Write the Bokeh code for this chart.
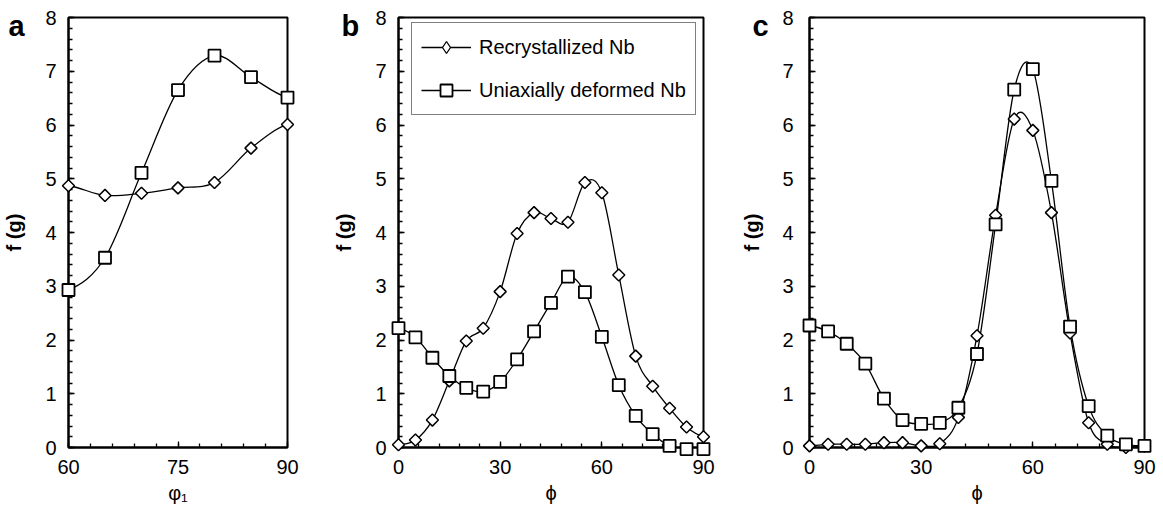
import numpy as np
from bokeh.plotting import figure
from bokeh.layouts import row
from bokeh.models import FixedTicker, Legend, LegendItem, Title, ColumnDataSource
from bokeh.embed import file_html
from bokeh.resources import INLINE

FONT = "Liberation Sans"
HEIGHT = 506

# (a) texture intensity along phi1
phi1_a = [60, 65, 70, 75, 80, 85, 90]
recryst_a = [4.87, 4.69, 4.73, 4.83, 4.93, 5.57, 6.01]
deformed_a = [2.93, 3.53, 5.11, 6.65, 7.29, 6.89, 6.51]

# (b) and (c) texture intensity along phi
phi_bc = [0, 5, 10, 15, 20, 25, 30, 35, 40, 45, 50, 55, 60, 65, 70, 75, 80, 85, 90]
recryst_b = [0.05, 0.14, 0.51, 1.24, 1.98, 2.22, 2.90, 3.98, 4.37, 4.26, 4.19, 4.93, 4.74,
             3.21, 1.70, 1.14, 0.73, 0.38, 0.20]
deformed_b = [2.22, 2.05, 1.67, 1.33, 1.11, 1.04, 1.22, 1.64, 2.16, 2.69, 3.18, 2.89, 2.06,
              1.16, 0.59, 0.25, 0.03, -0.03, -0.03]
recryst_c = [0.03, 0.06, 0.06, 0.06, 0.09, 0.09, 0.03, 0.07, 0.56, 2.08, 4.32, 6.11, 5.90,
             4.37, 2.13, 0.46, 0.06, 0.0, 0.03]
deformed_c = [2.27, 2.16, 1.93, 1.56, 0.91, 0.51, 0.44, 0.46, 0.74, 1.74, 4.15, 6.66, 7.04,
              4.96, 2.25, 0.77, 0.22, 0.06, 0.03]

series_names = ["Recrystallized Nb", "Uniaxially deformed Nb"]
y_ticks = [0, 1, 2, 3, 4, 5, 6, 7, 8]
x_ticks_a = [60, 75, 90]
x_ticks_bc = [0, 30, 60, 90]


def spline_source(x, y):
    """Cubic Bezier segments of a Catmull-Rom curve through the points."""
    x = np.asarray(x, float)
    y = np.asarray(y, float)
    xp = np.concatenate([[2 * x[0] - x[1]], x, [2 * x[-1] - x[-2]]])
    yp = np.concatenate([[y[0]], y, [y[-1]]])
    i = np.arange(len(x) - 1)
    p0x, p1x, p2x, p3x = xp[i], xp[i + 1], xp[i + 2], xp[i + 3]
    p0y, p1y, p2y, p3y = yp[i], yp[i + 1], yp[i + 2], yp[i + 3]
    return ColumnDataSource(dict(
        x0=p1x, y0=p1y, x1=p2x, y1=p2y,
        cx0=p1x + (p2x - p0x) / 6, cy0=p1y + (p2y - p0y) / 6,
        cx1=p2x - (p3x - p1x) / 6, cy1=p2y - (p3y - p1y) / 6,
    ))


def make_panel(letter, x, rec, dfm, x_range, xticks, minor_step, xlabel,
               width, left, right, top, bottom, tick_standoff, label_standoff,
               letter_offset, with_legend=False):
    p = figure(width=width, height=HEIGHT, x_range=x_range, y_range=(0, 8),
               output_backend="svg", toolbar_location=None,
               min_border_left=left, min_border_right=right,
               min_border_top=top, min_border_bottom=bottom)
    p.grid.visible = False
    p.outline_line_color = "black"
    p.outline_line_width = 2
    p.background_fill_color = "white"
    p.border_fill_color = "white"

    p.xaxis.ticker = FixedTicker(
        ticks=xticks,
        minor_ticks=list(np.arange(x_range[0], x_range[1] + 0.01, minor_step)))
    p.yaxis.ticker = FixedTicker(
        ticks=y_ticks, minor_ticks=list(np.round(np.arange(0, 8.01, 0.2), 2)))
    for ax in (p.xaxis, p.yaxis):
        ax.axis_line_color = "black"
        ax.axis_line_width = 2
        ax.major_tick_in = 6
        ax.major_tick_out = 0
        ax.minor_tick_in = 4
        ax.minor_tick_out = 0
        ax.major_tick_line_width = 1.3
        ax.minor_tick_line_width = 1.3
        ax.major_tick_line_color = "black"
        ax.minor_tick_line_color = "black"
        ax.major_label_text_font = FONT
        ax.major_label_text_font_size = "20px"
        ax.major_label_text_color = "black"
        ax.axis_label_text_font = FONT
        ax.axis_label_text_font_size = "20px"
        ax.axis_label_text_color = "black"
    p.xaxis.major_label_standoff = 12
    p.xaxis.axis_label = xlabel
    p.xaxis.axis_label_text_font_style = "normal"
    p.xaxis.axis_label_standoff = 5
    p.yaxis.major_label_standoff = tick_standoff
    p.yaxis.axis_label = "f (g)"
    p.yaxis.axis_label_text_font_style = "bold"
    p.yaxis.axis_label_standoff = label_standoff

    rec_line = p.bezier(x0="x0", y0="y0", x1="x1", y1="y1", cx0="cx0", cy0="cy0",
                        cx1="cx1", cy1="cy1", source=spline_source(x, rec),
                        line_color="black", line_width=1.3)
    dfm_line = p.bezier(x0="x0", y0="y0", x1="x1", y1="y1", cx0="cx0", cy0="cy0",
                        cx1="cx1", cy1="cy1", source=spline_source(x, dfm),
                        line_color="black", line_width=1.3)
    # markers sit on top of the frame, so they may overhang its edges
    p.scatter(x, rec, marker="square", angle=np.pi / 4, size=8.5, level="overlay",
              fill_color="white", line_color="black", line_width=1.5)
    dfm_pts = p.scatter(x, dfm, marker="square", size=12, level="overlay",
                        fill_color="white", line_color="black", line_width=1.8)

    # panel letter, set in the top-left corner beside the frame
    p.add_layout(Title(text=letter, align="left", vertical_align="bottom",
                       offset=letter_offset, standoff=-48, text_font=FONT,
                       text_font_size="29px", text_font_style="bold",
                       text_color="black"), "above")

    if with_legend:
        # the legend draws markers unrotated, so its diamond key uses the diamond marker
        rec_key = p.scatter(x, rec, marker="diamond", size=12, fill_color="white",
                            line_color="black", line_width=1.3)
        rec_key.visible = False
        legend = Legend(items=[
            LegendItem(label=series_names[0], renderers=[rec_line, rec_key]),
            LegendItem(label=series_names[1], renderers=[dfm_line, dfm_pts]),
        ], location=(13, 332))
        legend.glyph_width = 50
        legend.glyph_height = 30
        legend.label_height = 30
        legend.label_standoff = 8
        legend.spacing = 13
        legend.padding = 9
        legend.label_text_font = FONT
        legend.label_text_font_size = "20px"
        legend.label_text_color = "black"
        legend.border_line_color = "black"
        legend.border_line_width = 1
        legend.background_fill_color = "white"
        legend.background_fill_alpha = 1
        p.add_layout(legend, "center")
    return p


pa = make_panel("a", phi1_a, recryst_a, deformed_a, (60, 90), x_ticks_a, 3, "φ₁",
                width=330, left=68, right=43, top=17, bottom=58,
                tick_standoff=12, label_standoff=17, letter_offset=-60)
pb = make_panel("b", phi_bc, recryst_b, deformed_b, (0, 90), x_ticks_bc, 6, "ϕ",
                width=400, left=67, right=27, top=17, bottom=58,
                tick_standoff=12, label_standoff=17, letter_offset=-57, with_legend=True)
pc = make_panel("c", phi_bc, recryst_c, deformed_c, (0, 90), x_ticks_bc, 6, "ϕ",
                width=433, left=79, right=19, top=15, bottom=59,
                tick_standoff=16, label_standoff=16, letter_offset=-57)

layout = row(pa, pb, pc)
open("out.html", "w").write(file_html(layout, INLINE))
